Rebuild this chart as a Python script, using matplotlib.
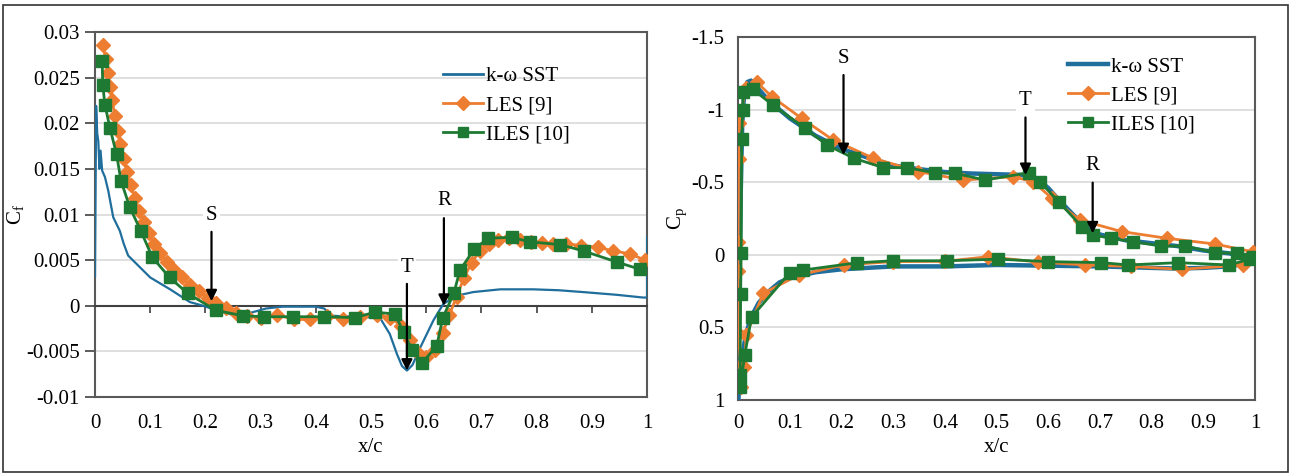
import matplotlib
matplotlib.use('Agg')
import matplotlib.pyplot as plt
from matplotlib.lines import Line2D
from matplotlib.patches import Rectangle

plt.rcParams['font.family'] = ['Liberation Serif', 'DejaVu Serif']
plt.rcParams['mathtext.fontset'] = 'custom'
plt.rcParams['mathtext.rm'] = 'Liberation Serif'
plt.rcParams['mathtext.it'] = 'Liberation Serif:italic'

# ── Skin friction (left panel) ────────────────────────────────
cf_sst_x = [0, 0.002, 0.004, 0.006, 0.008, 0.01, 0.013, 0.018, 0.024, 0.033,
            0.045, 0.052, 0.06, 0.075, 0.1, 0.136, 0.172, 0.196, 0.22, 0.25,
            0.28, 0.31, 0.34, 0.37, 0.4, 0.415, 0.43, 0.47, 0.516, 0.534,
            0.547, 0.556, 0.565, 0.575, 0.589, 0.613, 0.631, 0.655, 0.685,
            0.734, 0.794, 0.84, 0.884, 0.945, 0.993, 1.0, 1.0]
cf_sst_y = [0.0032, 0.0219, 0.0189, 0.0180, 0.0150, 0.0170, 0.0148, 0.0141,
            0.0126, 0.0097, 0.0082, 0.0068, 0.0055, 0.0046, 0.0031, 0.0018,
            0.0004, 0.0000, -0.0005, -0.0010, -0.0008, -0.0003, -0.0001,
            -0.0001, -0.0001, -0.0003, -0.0011, -0.0012, -0.0013, -0.0031,
            -0.0053, -0.0066, -0.0071, -0.0065, -0.0046, -0.0016, 0.0002,
            0.0011, 0.0015, 0.0018, 0.0018, 0.0017, 0.0015, 0.0012, 0.0009,
            0.0009, 0.0075]

cf_les_x = [0.015, 0.019, 0.023, 0.027, 0.031, 0.036, 0.041, 0.046, 0.052,
            0.058, 0.065, 0.072, 0.08, 0.088, 0.097, 0.107, 0.118, 0.13,
            0.143, 0.157, 0.172, 0.188, 0.204, 0.22, 0.237, 0.255, 0.275,
            0.3, 0.33, 0.36, 0.39, 0.42, 0.45, 0.48, 0.51, 0.535, 0.555,
            0.57, 0.585, 0.6, 0.615, 0.63, 0.642, 0.655, 0.668, 0.682, 0.697,
            0.713, 0.73, 0.75, 0.77, 0.79, 0.81, 0.83, 0.853, 0.881, 0.912,
            0.939, 0.969, 0.996]
cf_les_y = [0.0286, 0.0270, 0.0255, 0.0240, 0.0225, 0.0208, 0.0192, 0.0177,
            0.0161, 0.0147, 0.0132, 0.0118, 0.0104, 0.0092, 0.0080, 0.0068,
            0.0058, 0.0048, 0.0039, 0.0031, 0.0023, 0.0016, 0.0009, 0.0003,
            -0.0003, -0.0008, -0.0011, -0.0013, -0.0010, -0.0015, -0.0015,
            -0.0011, -0.0015, -0.0012, -0.0010, -0.0013, -0.0022, -0.0038,
            -0.0052, -0.0056, -0.0048, -0.0030, -0.0010, 0.0010, 0.0030,
            0.0047, 0.0060, 0.0068, 0.0072, 0.0074, 0.0072, 0.0070, 0.0069,
            0.0068, 0.0068, 0.0066, 0.0064, 0.0060, 0.0057, 0.0050]

cf_iles_x = [0.013, 0.014, 0.018, 0.027, 0.039, 0.047, 0.063, 0.083, 0.104,
             0.135, 0.168, 0.219, 0.268, 0.306, 0.358, 0.415, 0.471, 0.507,
             0.543, 0.559, 0.574, 0.592, 0.619, 0.630, 0.650, 0.661, 0.687,
             0.712, 0.755, 0.788, 0.843, 0.885, 0.945, 0.987]
cf_iles_y = [0.0268, 0.0242, 0.0220, 0.0195, 0.0166, 0.0137, 0.0108, 0.0082,
             0.0053, 0.0031, 0.00135, -0.0005, -0.0011, -0.0012, -0.0012,
             -0.0012, -0.0013, -0.0007, -0.0009, -0.0029, -0.0048, -0.0063,
             -0.0044, -0.0013, 0.00135, 0.0039, 0.0062, 0.0074, 0.0075,
             0.0070, 0.0067, 0.0060, 0.0048, 0.0040]

cf_ticks = [0.03, 0.025, 0.02, 0.015, 0.01, 0.005, 0, -0.005, -0.01]
cf_tick_labels = ['0.03', '0.025', '0.02', '0.015', '0.01', '0.005', '0',
                  '-0.005', '-0.01']

# ── Pressure coefficient (right panel) ────────────────────────
cp_sst_x = [1.0, 0.95, 0.9, 0.85, 0.8, 0.75, 0.7, 0.68, 0.65, 0.62, 0.6,
            0.58, 0.55, 0.5, 0.45, 0.4, 0.35, 0.3, 0.25, 0.2, 0.15, 0.1,
            0.06, 0.04, 0.025, 0.018, 0.012, 0.008, 0.005, 0.002, 0.0,
            0.003, 0.008, 0.015, 0.025, 0.04, 0.06, 0.08, 0.1, 0.15, 0.2,
            0.3, 0.4, 0.5, 0.6, 0.7, 0.8, 0.85, 0.9, 0.95, 1.0]
cp_sst_y = [0.03, -0.01, -0.03, -0.06, -0.08, -0.1, -0.14, -0.17, -0.27,
            -0.38, -0.46, -0.52, -0.55, -0.555, -0.56, -0.57, -0.59, -0.615,
            -0.67, -0.73, -0.82, -0.94, -1.06, -1.14, -1.2, -1.19, -1.12,
            -0.9, -0.4, 0.3, 1.0, 0.85, 0.7, 0.55, 0.43, 0.33, 0.25, 0.19,
            0.16, 0.12, 0.1, 0.08, 0.08, 0.07, 0.075, 0.08, 0.09, 0.095,
            0.09, 0.08, 0.05]

cp_les_x = [0.997, 0.923, 0.829, 0.742, 0.661, 0.607, 0.571, 0.532, 0.436,
            0.349, 0.262, 0.184, 0.123, 0.065, 0.036, 0.015, 0.002, 0.001,
            0.0, 0.0, 0.0, 0.005, 0.006, 0.012, 0.016, 0.049, 0.117, 0.204,
            0.30, 0.40, 0.484, 0.58, 0.671, 0.76, 0.858, 0.977, 1.0]
cp_les_y = [-0.02, -0.074, -0.114, -0.16, -0.24, -0.39, -0.503, -0.538,
            -0.515, -0.573, -0.665, -0.79, -0.94, -1.09, -1.19, -1.15,
            -0.906, -0.66, -0.09, 0.11, 0.54, 0.76, 0.91, 0.77, 0.55, 0.265,
            0.14, 0.07, 0.047, 0.045, 0.013, 0.05, 0.07, 0.08, 0.10, 0.07,
            0.02]

cp_iles_x = [0.997, 0.965, 0.923, 0.865, 0.819, 0.764, 0.722, 0.686, 0.665,
             0.620, 0.584, 0.562, 0.478, 0.42, 0.381, 0.326, 0.281, 0.224,
             0.172, 0.13, 0.068, 0.028, 0.010, 0.009, 0.007, 0.006, 0.005,
             0.004, 0.004, 0.013, 0.026, 0.1, 0.126, 0.23, 0.30, 0.404,
             0.503, 0.6, 0.703, 0.755, 0.852, 0.95, 0.99]
cp_iles_y = [0.017, -0.01, -0.015, -0.06, -0.06, -0.09, -0.114, -0.136,
             -0.194, -0.366, -0.503, -0.565, -0.515, -0.561, -0.565, -0.60,
             -0.60, -0.665, -0.756, -0.87, -1.03, -1.14, -1.12, -0.997, -0.80,
             -0.014, 0.27, 0.83, 0.91, 0.69, 0.43, 0.123, 0.105, 0.055, 0.041,
             0.041, 0.03, 0.047, 0.054, 0.07, 0.054, 0.07, 0.03]

cp_ticks = [-1.5, -1, -0.5, 0, 0.5, 1]
cp_tick_labels = ['-1.5', '-1', '-0.5', '0', '0.5', '1']

x_ticks = [0, 0.1, 0.2, 0.3, 0.4, 0.5, 0.6, 0.7, 0.8, 0.9, 1]
x_tick_labels = ['0', '0.1', '0.2', '0.3', '0.4', '0.5', '0.6', '0.7', '0.8',
                 '0.9', '1']

series_names = ['k-ω SST', 'LES [9]', 'ILES [10]']

BLUE = '#1f6e9c'
ORANGE = '#ed7d31'
GREEN = '#1e7a33'
GRID = '#d9d9d9'
FRAME = '#595959'
FS = 15

fig = plt.figure(figsize=(12.91, 4.75), dpi=100)
fig.patches.append(Rectangle((3 / 1291, 3 / 475), 1285 / 1291, 467 / 475,
                             transform=fig.transFigure, fill=False,
                             edgecolor='#333333', linewidth=1.2))


def arrow(ax, label, x, y_text, y_tail, y_tip):
    ax.text(x, y_text, label, ha='center', va='center', fontsize=FS,
            bbox=dict(facecolor='white', edgecolor='none', pad=2), zorder=6)
    ax.annotate('', xy=(x, y_tip), xytext=(x, y_tail),
                arrowprops=dict(arrowstyle='-|>', color='black', lw=1.6,
                                mutation_scale=16, shrinkA=0, shrinkB=0),
                zorder=7)


def legend(ax, x, y, blue_lw):
    handles = [
        Line2D([], [], color=BLUE, lw=blue_lw),
        Line2D([], [], color=ORANGE, lw=2, marker='D', markersize=7),
        Line2D([], [], color=GREEN, lw=2, marker='s', markersize=7),
    ]
    ax.legend(handles, series_names, loc='upper left', bbox_to_anchor=(x, y),
              frameon=False, fontsize=FS, handlelength=1.95,
              handletextpad=0.1, labelspacing=0.45, borderpad=0,
              borderaxespad=0)


# ── Left: Cf ──────────────────────────────────────────────────
ax1 = fig.add_axes([0.0736, 0.1642, 0.4276, 0.7684])
ax1.plot(cf_sst_x, cf_sst_y, color=BLUE, lw=1.6, zorder=3)
ax1.plot(cf_les_x, cf_les_y, color=ORANGE, lw=2, marker='D', markersize=7,
         zorder=4)
ax1.plot(cf_iles_x, cf_iles_y, color=GREEN, lw=2, marker='s', markersize=8,
         zorder=5)
ax1.set_xlim(0, 1)
ax1.set_ylim(-0.01, 0.03)
ax1.set_yticks(cf_ticks)
ax1.set_yticklabels(cf_tick_labels, fontsize=FS)
for t in cf_ticks:
    if t not in (0, 0.03, -0.01):
        ax1.axhline(t, color=GRID, lw=1.2, zorder=1)
ax1.spines['bottom'].set_position(('data', 0))
ax1.spines['bottom'].set_color('#404040')
ax1.spines['bottom'].set_linewidth(1.5)
ax1.set_xticks(x_ticks)
ax1.tick_params(axis='x', direction='out', length=5, width=1.2,
                labelbottom=False, color='#404040')
ax1.tick_params(axis='y', direction='out', length=7, width=1.2,
                color='#404040', pad=4)
for s in ['left', 'top', 'right']:
    ax1.spines[s].set_color(FRAME)
    ax1.spines[s].set_linewidth(1.5)
sec = ax1.secondary_xaxis('bottom')
sec.set_xticks(x_ticks)
sec.set_xticklabels(x_tick_labels, fontsize=FS)
sec.tick_params(length=0, pad=12)
sec.spines['bottom'].set_color(FRAME)
sec.spines['bottom'].set_linewidth(1.5)
sec.set_xlabel('x/c', fontsize=FS, labelpad=4)
ax1.set_ylabel(r'C$_\mathrm{f}$', fontsize=FS)
ax1.yaxis.set_label_coords(-0.125, 0.5)

arrow(ax1, 'S', 0.211, 0.0099, 0.0081, 0.0005)
arrow(ax1, 'T', 0.565, 0.0042, 0.0024, -0.0071)
arrow(ax1, 'R', 0.632, 0.0115, 0.0096, 0.0)
legend(ax1, 0.630, 0.905, 2)

# ── Right: Cp ─────────────────────────────────────────────────
ax2 = fig.add_axes([0.5717, 0.1579, 0.4004, 0.7642])
ax2.plot(cp_sst_x, cp_sst_y, color=BLUE, lw=3.2, zorder=3)
ax2.plot(cp_les_x, cp_les_y, color=ORANGE, lw=2, marker='D', markersize=7,
         zorder=4)
ax2.plot(cp_iles_x, cp_iles_y, color=GREEN, lw=2, marker='s', markersize=8,
         zorder=5)
ax2.set_xlim(0, 1)
ax2.set_ylim(1, -1.5)
ax2.set_yticks(cp_ticks)
ax2.set_yticklabels(cp_tick_labels, fontsize=FS)
ax2.set_xticks(x_ticks)
ax2.set_xticklabels(x_tick_labels, fontsize=FS)
ax2.tick_params(length=0, pad=10)
for t in cp_ticks[1:-1]:
    ax2.axhline(t, color=GRID, lw=1.2, zorder=1)
for s in ['left', 'top', 'right', 'bottom']:
    ax2.spines[s].set_color(FRAME)
    ax2.spines[s].set_linewidth(1.5)
ax2.set_xlabel('x/c', fontsize=FS, labelpad=4)
ax2.set_ylabel(r'C$_\mathrm{p}$', fontsize=FS)
ax2.yaxis.set_label_coords(-0.095, 0.5)

arrow(ax2, 'S', 0.204, -1.353, -1.238, -0.687)
arrow(ax2, 'T', 0.556, -1.066, -0.946, -0.55)
arrow(ax2, 'R', 0.686, -0.618, -0.497, -0.148)
legend(ax2, 0.638, 0.945, 3.2)

fig.savefig('out.png', dpi=100)
